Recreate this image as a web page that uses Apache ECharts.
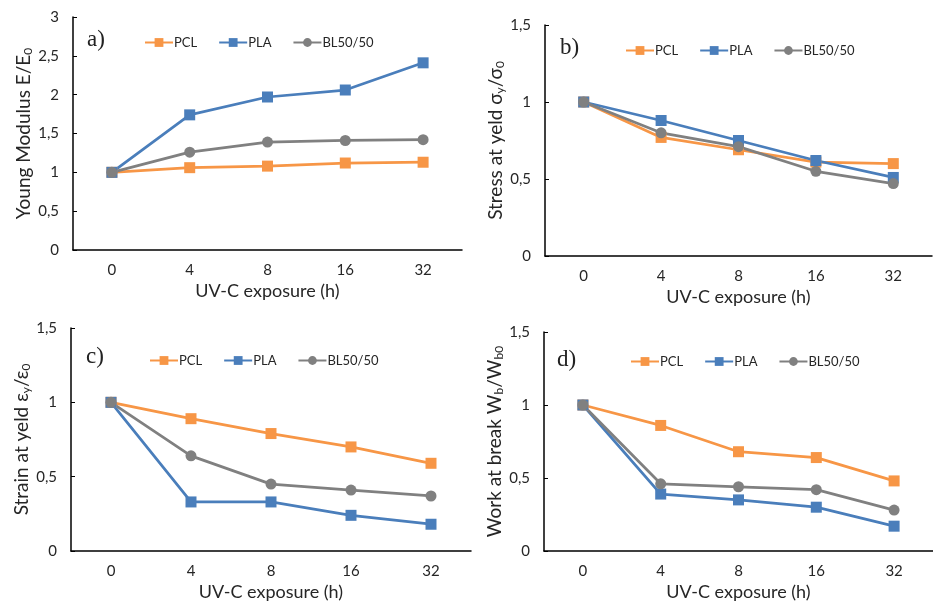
<!DOCTYPE html>
<html>
<head>
<meta charset="utf-8">
<script src="https://cdn.jsdelivr.net/npm/echarts@6/dist/echarts.min.js"></script>
<style>
  html, body { margin: 0; padding: 0; background: #fff; }
  #chart { width: 933px; height: 605px; }
</style>
</head>
<body>
<div id="chart"></div>
<script>
const categories = ['0', '4', '8', '16', '32']
const seriesNames = ['PCL', 'PLA', 'BL50/50']

// a) Young modulus
const youngPCL = [1, 1.06, 1.08, 1.12, 1.13]
const youngPLA = [1, 1.74, 1.97, 2.06, 2.41]
const youngBL = [1, 1.26, 1.39, 1.41, 1.42]
// b) stress at yield
const stressPCL = [1, 0.77, 0.69, 0.61, 0.60]
const stressPLA = [1, 0.88, 0.75, 0.62, 0.51]
const stressBL = [1, 0.80, 0.71, 0.55, 0.47]
// c) strain at yield
const strainPCL = [1, 0.89, 0.79, 0.70, 0.59]
const strainPLA = [1, 0.33, 0.33, 0.24, 0.18]
const strainBL = [1, 0.64, 0.45, 0.41, 0.37]
// d) work at break
const workPCL = [1, 0.86, 0.68, 0.64, 0.48]
const workPLA = [1, 0.39, 0.35, 0.30, 0.17]
const workBL = [1, 0.46, 0.44, 0.42, 0.28]

const colors = ['#F79646', '#4A7EBB', '#808080']
const font = 'Lato'
const textColor = '#262626'

const panels = [
  { tag: 'a)', max: 3, yName: 'Young Modulus E/E{sub|0}', data: [youngPCL, youngPLA, youngBL],
    grid: { left: 73, top: 17, width: 389, height: 233 }, legend: { left: 144, top: 36 }, label: { left: 87, top: 28 } },
  { tag: 'b)', max: 1.5, yName: 'Stress at yeld σ{sub|y}/σ{sub|0}', data: [stressPCL, stressPLA, stressBL],
    grid: { left: 545, top: 25, width: 387, height: 231 }, legend: { left: 625, top: 44 }, label: { left: 560, top: 36 } },
  { tag: 'c)', max: 1.5, yName: 'Strain at yeld ε{sub|y}/ε{sub|0}', data: [strainPCL, strainPLA, strainBL],
    grid: { left: 71, top: 328, width: 400, height: 223 }, legend: { left: 149, top: 354 }, label: { left: 86, top: 345 } },
  { tag: 'd)', max: 1.5, yName: 'Work at break W{sub|b}/W{sub|b0}', data: [workPCL, workPLA, workBL],
    grid: { left: 544, top: 332, width: 396, height: 219 }, legend: { left: 630, top: 355 }, label: { left: 557, top: 348 } }
]

const option = {
  animation: false,
  color: colors,
  title: [],
  legend: [],
  grid: [],
  xAxis: [],
  yAxis: [],
  series: []
}

panels.forEach((p, i) => {
  option.grid.push(p.grid)
  option.title.push({
    text: p.tag,
    left: p.label.left,
    top: p.label.top,
    padding: 0,
    textStyle: { fontFamily: 'Liberation Serif', fontSize: 23, fontWeight: 'normal', color: '#222' }
  })
  option.legend.push({
    data: seriesNames,
    left: p.legend.left,
    top: p.legend.top,
    padding: 0,
    itemWidth: 28,
    itemHeight: 11,
    itemGap: 21,
    selectedMode: false,
    textStyle: { fontFamily: font, fontSize: 13, color: textColor, padding: [0, 0, 0, -4] }
  })
  option.xAxis.push({
    type: 'category',
    gridIndex: i,
    data: categories,
    name: 'UV-C exposure (h)',
    nameLocation: 'middle',
    nameGap: 32,
    nameTextStyle: { fontFamily: font, fontSize: 18, color: textColor },
    axisLine: { lineStyle: { color: '#000', width: 1.5 } },
    axisTick: { alignWithLabel: true, inside: true, length: 4, lineStyle: { color: '#000' } },
    axisLabel: { fontFamily: font, fontSize: 15, color: textColor, margin: 13 },
    splitLine: { show: false }
  })
  option.yAxis.push({
    type: 'value',
    gridIndex: i,
    min: 0,
    max: p.max,
    interval: 0.5,
    name: p.yName,
    nameLocation: 'middle',
    nameGap: 38,
    nameTextStyle: {
      fontFamily: font, fontSize: 19, color: textColor,
      rich: { sub: { fontFamily: font, fontSize: 12, color: textColor, verticalAlign: 'bottom', padding: [8, 0, 0, 0] } }
    },
    axisLine: { show: true, lineStyle: { color: '#000', width: 1.5 } },
    axisTick: { show: true, inside: true, length: 4, lineStyle: { color: '#000' } },
    axisLabel: {
      fontFamily: font, fontSize: 15, color: textColor, margin: 14,
      formatter: v => String(v).replace('.', ',')
    },
    splitLine: { show: false }
  })
  p.data.forEach((values, k) => {
    option.series.push({
      name: seriesNames[k],
      type: 'line',
      xAxisIndex: i,
      yAxisIndex: i,
      data: values,
      symbol: k === 2 ? 'circle' : 'rect',
      symbolSize: 11,
      lineStyle: { width: 2.75, color: colors[k] },
      itemStyle: { color: colors[k] }
    })
  })
})

const chart = echarts.init(document.getElementById('chart'))
chart.setOption(option)
</script>
</body>
</html>
